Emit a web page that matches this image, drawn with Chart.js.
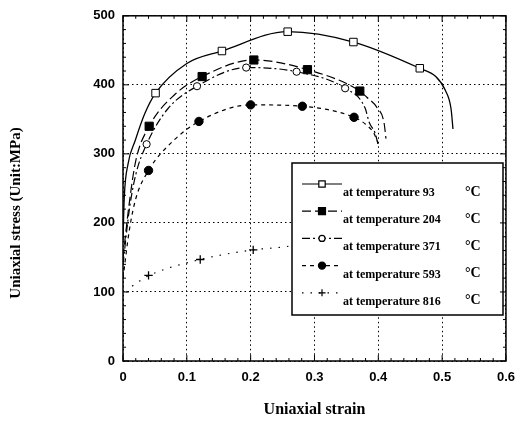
<!DOCTYPE html>
<html>
<head>
<meta charset="utf-8">
<script src="https://cdn.jsdelivr.net/npm/chart.js@4.4.1/dist/chart.umd.min.js"></script>
<style>
  body { margin: 0; background: #fff; }
</style>
</head>
<body>
<canvas id="chart" width="524" height="421"></canvas>
<script>
const temperatures = ['93', '204', '371', '593', '816'];

// curves
const strain93  = [0, 0.002, 0.008, 0.019, 0.034, 0.051, 0.10, 0.155, 0.258, 0.361, 0.465, 0.49, 0.505, 0.514, 0.517];
const stress93  = [175, 237, 286, 319, 358, 388, 431, 449, 477, 462, 424, 412, 392, 365, 336];
const strain204 = [0, 0.01, 0.02, 0.041, 0.08, 0.124, 0.205, 0.289, 0.371, 0.382, 0.398, 0.409, 0.412];
const stress204 = [150, 230, 290, 340, 385, 412, 436, 422, 391, 382, 367, 345, 322];
const strain371 = [0, 0.01, 0.02, 0.037, 0.07, 0.116, 0.193, 0.272, 0.348, 0.379, 0.386, 0.395, 0.40];
const stress371 = [140, 220, 270, 314, 365, 398, 425, 419, 395, 367, 345, 330, 312];
const strain593 = [0, 0.01, 0.02, 0.04, 0.08, 0.119, 0.2, 0.281, 0.362, 0.38, 0.393, 0.40];
const stress593 = [120, 190, 235, 276, 320, 347, 371, 369, 353, 343, 330, 315];
const strain816 = [0, 0.006, 0.023, 0.041, 0.121, 0.204, 0.25, 0.265];
const stress816 = [88, 100, 114, 124, 147, 161, 165, 167];

// marker points
const markStrain93  = [0.051, 0.155, 0.258, 0.361, 0.465];
const markStress93  = [388, 449, 477, 462, 424];
const markStrain204 = [0.041, 0.124, 0.205, 0.289, 0.371];
const markStress204 = [340, 412, 436, 422, 391];
const markStrain371 = [0.037, 0.116, 0.193, 0.272, 0.348];
const markStress371 = [314, 398, 425, 419, 395];
const markStrain593 = [0.04, 0.119, 0.2, 0.281, 0.362];
const markStress593 = [276, 347, 371, 369, 353];
const markStrain816 = [0.04, 0.121, 0.204];
const markStress816 = [124, 147, 161];

const xMin = 0, xMax = 0.6, xStep = 0.1;
const yMin = 0, yMax = 500, yStep = 100;

function pts(xs, ys) {
    let out = [];
    for (let i = 0; i < xs.length; i++) out.push({x: xs[i], y: ys[i]});
    return out;
}

const styles = [
    {dash: [], point: 'rect', radius: 5.3, fill: '#fff'},
    {dash: [9, 4], point: 'rect', radius: 5.8, fill: '#000'},
    {dash: [8, 3, 2, 3], point: 'circle', radius: 3.6, fill: '#fff'},
    {dash: [4, 4], point: 'circle', radius: 4.2, fill: '#000'},
    {dash: [1.5, 7], point: 'cross', radius: 4.2, fill: '#000'}
];
const curves = [
    pts(strain93, stress93), pts(strain204, stress204), pts(strain371, stress371),
    pts(strain593, stress593), pts(strain816, stress816)
];
const marks = [
    pts(markStrain93, markStress93), pts(markStrain204, markStress204), pts(markStrain371, markStress371),
    pts(markStrain593, markStress593), pts(markStrain816, markStress816)
];

let datasets = [];
for (let i = 0; i < temperatures.length; i++) {
    datasets.push({
        label: 'marks ' + temperatures[i],
        data: marks[i],
        showLine: false,
        pointStyle: styles[i].point,
        pointRadius: styles[i].radius,
        pointBackgroundColor: styles[i].fill,
        pointBorderColor: '#000',
        pointBorderWidth: styles[i].point == 'cross' ? 1.3 : 1
    });
}
for (let i = 0; i < temperatures.length; i++) {
    datasets.push({
        label: 'at temperature ' + temperatures[i],
        data: curves[i],
        showLine: true,
        pointRadius: 0,
        borderColor: '#000',
        borderWidth: i == 0 ? 1.3 : 1.2,
        borderDash: styles[i].dash,
        cubicInterpolationMode: 'monotone'
    });
}

const serif = '"Liberation Serif", "Times New Roman", serif';
const sans = '"Liberation Sans", Arial, sans-serif';

const decor = {
    id: 'decor',
    afterDatasetsDraw(chart) {
        const ctx = chart.ctx;
        const area = chart.chartArea;
        const xs = chart.scales.x, ys = chart.scales.y;

        // legend box
        const box = {left: 292, top: 163, right: 503, bottom: 315};
        ctx.save();
        ctx.fillStyle = '#fff';
        ctx.fillRect(box.left, box.top, box.right - box.left, box.bottom - box.top);
        ctx.strokeStyle = '#000';
        ctx.lineWidth = 1.5;
        ctx.strokeRect(box.left, box.top, box.right - box.left, box.bottom - box.top);
        for (let i = 0; i < temperatures.length; i++) {
            const ty = 193 + i * 27.2;
            const sy = ty - 9;
            ctx.setLineDash(styles[i].dash);
            ctx.lineWidth = 1.2;
            ctx.beginPath();
            ctx.moveTo(302, sy);
            ctx.lineTo(342, sy);
            ctx.stroke();
            ctx.setLineDash([]);
            ctx.fillStyle = styles[i].fill;
            ctx.strokeStyle = '#000';
            Chart.helpers.drawPoint(ctx, {
                pointStyle: styles[i].point,
                radius: styles[i].radius * 0.85,
                rotation: 0,
                borderWidth: 1
            }, 322, sy);
            ctx.fillStyle = '#000';
            ctx.textBaseline = 'middle';
            ctx.textAlign = 'left';
            ctx.font = 'bold 12px ' + serif;
            ctx.fillText('at temperature ' + temperatures[i], 343, ty);
            ctx.font = 'bold 14px ' + serif;
            ctx.fillText('°C', 465, ty - 1);
        }

        // frame and inner ticks
        ctx.setLineDash([]);
        ctx.strokeStyle = '#000';
        ctx.lineWidth = 1.5;
        ctx.strokeRect(area.left, area.top, area.right - area.left, area.bottom - area.top);
        ctx.lineWidth = 1;
        ctx.beginPath();
        for (let k = 0; k <= 30; k++) {
            const v = xMin + k * (xMax - xMin) / 30;
            const px = xs.getPixelForValue(v);
            const len = k % 5 == 0 ? 6 : 3;
            ctx.moveTo(px, area.bottom); ctx.lineTo(px, area.bottom - len);
            ctx.moveTo(px, area.top); ctx.lineTo(px, area.top + len);
        }
        for (let k = 0; k <= 25; k++) {
            const v = yMin + k * (yMax - yMin) / 25;
            const py = ys.getPixelForValue(v);
            const len = k % 5 == 0 ? 6 : 3;
            ctx.moveTo(area.left, py); ctx.lineTo(area.left + len, py);
            ctx.moveTo(area.right, py); ctx.lineTo(area.right - len, py);
        }
        ctx.stroke();
        ctx.restore();
    },
    afterDraw(chart) {
        const ctx = chart.ctx;
        const area = chart.chartArea;
        ctx.save();
        ctx.fillStyle = '#000';
        ctx.textAlign = 'center';
        ctx.textBaseline = 'middle';
        ctx.font = 'bold 16px ' + serif;
        ctx.fillText('Uniaxial strain', (area.left + area.right) / 2, 410);
        ctx.translate(16, 213);
        ctx.rotate(-Math.PI / 2);
        ctx.font = 'bold 15px ' + serif;
        ctx.fillText('Uniaxial stress (Unit:MPa)', 0, 0);
        ctx.restore();
    }
};

new Chart(document.getElementById('chart'), {
    type: 'scatter',
    data: {datasets: datasets},
    options: {
        responsive: false,
        animation: false,
        layout: {padding: {left: 0, top: 15, right: 14, bottom: 0}},
        plugins: {
            legend: {display: false},
            tooltip: {enabled: false}
        },
        scales: {
            x: {
                type: 'linear',
                min: xMin, max: xMax,
                ticks: {stepSize: xStep, padding: 9, color: '#000', font: {family: sans, size: 13, weight: 'bold'}},
                grid: {color: '#000', lineWidth: 1, drawTicks: false},
                border: {display: false, dash: [1.5, 3]},
                afterFit: s => { s.height = 60; }
            },
            y: {
                type: 'linear',
                min: yMin, max: yMax,
                ticks: {stepSize: yStep, padding: 8, color: '#000', font: {family: sans, size: 13, weight: 'bold'}},
                grid: {color: '#000', lineWidth: 1, drawTicks: false},
                border: {display: false, dash: [1.5, 3]},
                afterFit: s => { s.width = 123; }
            }
        }
    },
    plugins: [decor]
});
</script>
</body>
</html>
